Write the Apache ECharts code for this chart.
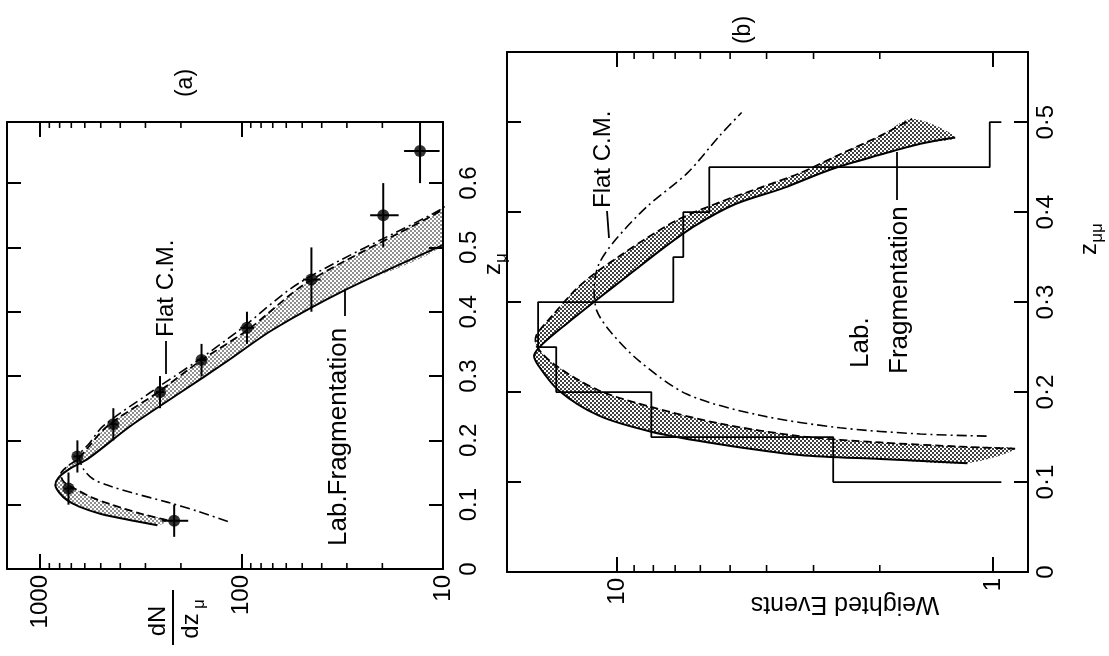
<!DOCTYPE html>
<html>
<head>
<meta charset="utf-8">
<title>z distributions</title>
<script src="https://cdn.jsdelivr.net/npm/echarts@6.0.0/dist/echarts.min.js"></script>
<style>
  html, body { margin: 0; padding: 0; background: #fff; }
  #chart { width: 1109px; height: 656px; }
</style>
</head>
<body>
<div id="chart"></div>
<script>
// ---------- Panel (a): single-muon z distribution, dN/dz ----------
// measured points: bin centre, half bin width, dN/dz and its error
const aPointZ    = [0.075, 0.125, 0.175, 0.225, 0.275, 0.325, 0.375, 0.45, 0.55, 0.65];
const aPointHalf = [0.025, 0.025, 0.025, 0.025, 0.025, 0.025, 0.025, 0.05, 0.05, 0.05];
const aPointN    = [216, 723, 653, 433, 254, 158, 94, 45, 19.8, 13.0];
const aPointErr  = [32, 35, 30, 20, 12, 8, 7.5, 4.5, 3.2, 2.6];

// lab-fragmentation band: solid and dashed edges
const aSolidZ  = [0.068, 0.075, 0.086, 0.097, 0.107, 0.118, 0.130, 0.142, 0.155, 0.172, 0.222, 0.274, 0.323, 0.372, 0.435, 0.505];
const aSolidN  = [262, 345, 503, 640, 735, 800, 840, 810, 720, 575, 357, 202, 118, 70, 30, 9.8];
const aDashZ   = [0.076, 0.085, 0.101, 0.112, 0.123, 0.135, 0.148, 0.160, 0.172, 0.222, 0.274, 0.323, 0.372, 0.446, 0.550, 0.565];
const aDashN   = [234, 308, 450, 560, 655, 760, 790, 730, 645, 464, 262, 161, 93, 47, 11.2, 9.3];

// flat C.M. prediction (dash-dot)
const aFlatZ   = [0.074, 0.090, 0.104, 0.118, 0.129, 0.140, 0.156, 0.175, 0.195, 0.222, 0.274, 0.323, 0.372, 0.446, 0.550, 0.565];
const aFlatN   = [117, 166, 234, 345, 450, 546, 611, 640, 570, 487, 285, 167, 102, 51, 11.6, 9.5];

const aMinorTicks = [20, 30, 40, 50, 60, 70, 80, 90, 200, 300, 400, 500, 600, 700, 800, 900];

// ---------- Panel (b): dimuon z distribution, weighted events ----------
const bEdges  = [0.10, 0.15, 0.20, 0.25, 0.30, 0.35, 0.40, 0.45, 0.50];
const bCounts = [2.66, 8.1, 14.5, 16.2, 7.08, 6.66, 5.68, 1.02];
const bHistBase = 0.95;

const bSolidZ = [0.121, 0.1255, 0.130, 0.142, 0.156, 0.174, 0.202, 0.230, 0.241, 0.253, 0.276, 0.304, 0.332, 0.360, 0.385, 0.409, 0.427, 0.448, 0.464, 0.476, 0.483];
const bSolidN = [1.17, 1.99, 3.26, 5.33, 8.11, 11.2, 14.3, 16.2, 16.6, 15.8, 13.6, 11.2, 9.18, 7.53, 6.19, 4.84, 3.60, 2.68, 1.99, 1.56, 1.26];
const bDashZ  = [0.137, 0.1394, 0.144, 0.151, 0.165, 0.1835, 0.202, 0.230, 0.250, 0.2625, 0.2856, 0.3135, 0.332, 0.3506, 0.3715, 0.3923, 0.411, 0.427, 0.4434, 0.4643, 0.485, 0.5037];
const bDashN  = [0.873, 1.22, 1.99, 3.26, 5.33, 8.11, 11.2, 14.6, 16.3, 16.4, 14.8, 12.9, 11.45, 9.88, 8.31, 6.83, 5.33, 4.17, 3.26, 2.55, 1.99, 1.64];

const bFlatZ  = [0.151, 0.1534, 0.1603, 0.1742, 0.1975, 0.2346, 0.267, 0.290, 0.3135, 0.341, 0.369, 0.4063, 0.4434, 0.485, 0.5107];
const bFlatN  = [1.04, 1.56, 2.55, 4.17, 6.50, 8.73, 10.4, 11.3, 11.5, 11.2, 10.1, 8.31, 6.50, 5.33, 4.66];

const bMinorTicks = [2, 3, 4, 5, 6, 7, 8, 9];

// axis ranges
const aLogMin = 10, aLogMax = 1460, aZMax = 0.695;
const bLogMin = 0.807, bLogMax = 19.6, bZMax = 0.578;

// ---------- helpers ----------
function hasFont(name) {
  const ctx = document.createElement('canvas').getContext('2d');
  const sample = 'Weighted Events 0.1234 Fragmentation';
  ctx.font = '40px monospace';
  const base = ctx.measureText(sample).width;
  ctx.font = '40px "' + name + '", monospace';
  return Math.abs(ctx.measureText(sample).width - base) > 0.5;
}
const NARROW = hasFont('Liberation Sans Narrow');
const FAMILY = NARROW ? 'Liberation Sans Narrow' : 'Liberation Sans';
const FS = NARROW ? 28 : 24;
const FS_NOTE = NARROW ? 30 : 26;

const pts = (zs, ns) => zs.map((z, i) => [ns[i], z]);

// decade labels only (10, 100, 1000 / 1, 10)
function decadeLabel(v) {
  const l = Math.log10(v);
  return Math.abs(l - Math.round(l)) < 1e-6 ? String(Math.round(Math.pow(10, Math.round(l)))) : '';
}

function histPath(edges, counts, base) {
  const p = [[base, edges[0]]];
  counts.forEach((c, i) => { p.push([c, edges[i]], [c, edges[i + 1]]); });
  p.push([base, edges[edges.length - 1]]);
  return p;
}

function stipple(step, r) {
  const c = document.createElement('canvas');
  c.width = c.height = step;
  const g = c.getContext('2d');
  g.fillStyle = '#000';
  [[step * 0.25, step * 0.25], [step * 0.75, step * 0.75]].forEach(([x, y]) => {
    g.beginPath(); g.arc(x, y, r, 0, Math.PI * 2); g.fill();
  });
  return c;
}
const dotsA = stipple(4, 0.8);
const dotsB = stipple(4, 1.0);

function logAxis(grid, min, max, pos, margin) {
  return {
    gridIndex: grid, type: 'log', logBase: 10, min: min, max: max, inverse: true, position: pos,
    axisLine: { show: true, onZero: false, lineStyle: { color: '#000', width: 2 } },
    axisTick: { show: true, inside: true, length: 15, lineStyle: { color: '#000', width: 2 } },
    axisLabel: margin == null ? { show: false } : {
      show: true, rotate: 90, margin: margin, color: '#000', fontFamily: FAMILY, fontSize: FS,
      showMinLabel: true, showMaxLabel: false, formatter: decadeLabel
    },
    splitLine: { show: false }, minorTick: { show: false }, minorSplitLine: { show: false }
  };
}

function zAxis(grid, max, pos, margin, fmt) {
  return {
    gridIndex: grid, type: 'value', min: 0, max: max, interval: 0.1, position: pos,
    axisLine: { show: true, onZero: false, lineStyle: { color: '#000', width: 2 } },
    axisTick: { show: true, inside: true, length: 14, lineStyle: { color: '#000', width: 2 } },
    axisLabel: margin == null ? { show: false } : {
      show: true, rotate: 90, margin: margin, color: '#000', fontFamily: FAMILY, fontSize: FS,
      showMaxLabel: false, formatter: fmt
    },
    splitLine: { show: false }
  };
}

// stippled band with a solid lower edge and a dashed upper edge
function bandSeries(xi, yi, lo, hi, pattern) {
  return {
    type: 'custom', xAxisIndex: xi, yAxisIndex: yi, silent: true, clip: true, z: 2,
    data: lo, encode: { x: 0, y: 1 },
    renderItem: function (params, api) {
      if (params.dataIndex !== 0) return null;
      const pl = lo.map(p => api.coord(p));
      const ph = hi.map(p => api.coord(p));
      return {
        type: 'group', children: [
          { type: 'polygon', shape: { points: pl.concat(ph.slice().reverse()), smooth: 0.3 },
            style: { fill: { image: pattern, repeat: 'repeat' }, stroke: 'none' } },
          { type: 'polyline', shape: { points: pl, smooth: 0.3 },
            style: { stroke: '#000', lineWidth: 2, fill: 'none' } },
          { type: 'polyline', shape: { points: ph, smooth: 0.3 },
            style: { stroke: '#000', lineWidth: 1.8, lineDash: [8, 4], fill: 'none' } }
        ]
      };
    }
  };
}

function flatSeries(xi, yi, data) {
  return {
    type: 'line', xAxisIndex: xi, yAxisIndex: yi, data: data, smooth: 0.3, silent: true,
    showSymbol: false, symbol: 'none', clip: true, z: 3,
    lineStyle: { color: '#000', width: 1.6, type: [10, 4, 2, 4] }
  };
}

function minorTickSeries(xi, yi, values, zTop, len) {
  return {
    type: 'custom', xAxisIndex: xi, yAxisIndex: yi, silent: true, clip: false, z: 5,
    data: values.map(v => [v, 0]), encode: { x: 0, y: 1 },
    renderItem: function (params, api) {
      const b = api.coord([api.value(0), 0]);
      const t = api.coord([api.value(0), zTop]);
      return {
        type: 'group', children: [
          { type: 'line', shape: { x1: b[0], y1: b[1], x2: b[0], y2: b[1] - len }, style: { stroke: '#000', lineWidth: 1.6 } },
          { type: 'line', shape: { x1: t[0], y1: t[1], x2: t[0], y2: t[1] + len }, style: { stroke: '#000', lineWidth: 1.6 } }
        ]
      };
    }
  };
}

// ---------- text ----------
function vtext(text, x, y, opts) {
  opts = opts || {};
  const align = opts.align || 'center';
  return {
    type: 'text', x: x, y: y, rotation: opts.rotation == null ? Math.PI / 2 : opts.rotation, silent: true,
    style: {
      text: text, fontSize: opts.size || FS, fontFamily: FAMILY, fill: '#000',
      align: align, textAlign: align, verticalAlign: 'middle', textVerticalAlign: 'middle'
    }
  };
}
function t0(text, x, y, size, align) {
  return {
    type: 'text', x: x, y: y, silent: true,
    style: { text: text, fontSize: size, fontFamily: FAMILY, fill: '#000',
      align: align || 'center', textAlign: align || 'center', verticalAlign: 'middle', textVerticalAlign: 'middle' }
  };
}
function leader(x1, y1, x2, y2) {
  return { type: 'line', silent: true, shape: { x1: x1, y1: y1, x2: x2, y2: y2 }, style: { stroke: '#000', lineWidth: 1.8 } };
}

const SUB = Math.round(FS * 0.7);
const graphics = [
  vtext('(a)', 186, 83, { size: FS - 1 }),
  vtext('(b)', 744, 30, { size: FS - 1 }),
  // panel (a) annotations
  vtext('Flat C.M.', 166, 337, { align: 'left' }),
  leader(166, 341, 166, 374),
  vtext('Lab.Fragmentation', 339, 546, { align: 'left', size: FS_NOTE }),
  leader(345, 316, 345, 289),
  // panel (b) annotations
  vtext('Flat C.M.', 603, 208, { align: 'left' }),
  leader(607, 211, 609, 238),
  vtext('Lab.', 861, 368, { align: 'left', size: FS_NOTE }),
  vtext('Fragmentation', 900, 374, { align: 'left', size: FS_NOTE }),
  leader(897, 200, 897, 152),
  // axis titles
  { type: 'group', x: 493, y: 265, rotation: Math.PI / 2, children: [
      t0('z', -4, 0, FS), t0('\u03bc', 7, 8, SUB) ] },
  { type: 'group', x: 1089, y: 240, rotation: Math.PI / 2, children: [
      t0('z', -9, 0, FS), t0('\u03bc\u03bc', 7, 8, SUB) ] },
  { type: 'group', x: 173, y: 617, rotation: Math.PI / 2, children: [
      t0('dN', -4, -15, FS),
      { type: 'line', shape: { x1: -28, y1: 0, x2: 27, y2: 0 }, style: { stroke: '#000', lineWidth: 2 } },
      t0('dz', -9, 18, FS),
      t0('\u03bc', 13, 26, SUB) ] },
  vtext('Weighted Events', 845, 604, { rotation: Math.PI, size: FS + 1 })
];

// ---------- chart ----------
const chart = echarts.init(document.getElementById('chart'), null, { renderer: 'canvas' });
chart.setOption({
  backgroundColor: '#fff',
  animation: false,
  grid: [
    { left: 7, top: 122, width: 436, height: 447, containLabel: false, outerBoundsMode: 'none' },
    { left: 507, top: 52, width: 521, height: 520, containLabel: false, outerBoundsMode: 'none' }
  ],
  xAxis: [
    logAxis(0, aLogMin, aLogMax, 'bottom', 6),
    logAxis(0, aLogMin, aLogMax, 'top', null),
    logAxis(1, bLogMin, bLogMax, 'bottom', 6),
    logAxis(1, bLogMin, bLogMax, 'top', null)
  ],
  yAxis: [
    zAxis(0, aZMax, 'right', 14, v => v === 0 ? '0' : v.toFixed(1)),
    zAxis(0, aZMax, 'left', null),
    zAxis(1, bZMax, 'right', 6, v => v === 0 ? '0' : v.toFixed(1).replace('.', '\u00b7')),
    zAxis(1, bZMax, 'left', null)
  ],
  graphic: { elements: graphics },
  series: [
    // panel (a)
    bandSeries(0, 0, pts(aSolidZ, aSolidN), pts(aDashZ, aDashN), dotsA),
    flatSeries(0, 0, pts(aFlatZ, aFlatN)),
    {
      type: 'custom', xAxisIndex: 0, yAxisIndex: 0, silent: true, clip: true, z: 4,
      data: aPointZ.map((z, i) => [aPointN[i], z, aPointN[i] - aPointErr[i], aPointN[i] + aPointErr[i], z - aPointHalf[i], z + aPointHalf[i]]),
      encode: { x: 0, y: 1 },
      renderItem: function (params, api) {
        const n = api.value(0), z = api.value(1);
        const a = api.coord([api.value(2), z]), b = api.coord([api.value(3), z]);
        const c = api.coord([n, api.value(4)]), d = api.coord([n, api.value(5)]);
        return { type: 'group', children: [
          { type: 'line', shape: { x1: a[0], y1: a[1], x2: b[0], y2: b[1] }, style: { stroke: '#000', lineWidth: 2 } },
          { type: 'line', shape: { x1: c[0], y1: c[1], x2: d[0], y2: d[1] }, style: { stroke: '#000', lineWidth: 2 } }
        ] };
      }
    },
    {
      type: 'scatter', xAxisIndex: 0, yAxisIndex: 0, silent: true, z: 5,
      data: pts(aPointZ, aPointN), symbol: 'circle', symbolSize: 12,
      itemStyle: { color: '#000' }
    },
    minorTickSeries(0, 0, aMinorTicks, aZMax, 6),
    // panel (b)
    bandSeries(2, 2, pts(bSolidZ, bSolidN), pts(bDashZ, bDashN), dotsB),
    flatSeries(2, 2, pts(bFlatZ, bFlatN)),
    {
      type: 'line', xAxisIndex: 2, yAxisIndex: 2, silent: true, z: 4,
      data: histPath(bEdges, bCounts, bHistBase), showSymbol: false, symbol: 'none', smooth: false,
      lineStyle: { color: '#000', width: 1.8 }
    },
    minorTickSeries(2, 2, bMinorTicks, bZMax, 7)
  ]
});
</script>
</body>
</html>
